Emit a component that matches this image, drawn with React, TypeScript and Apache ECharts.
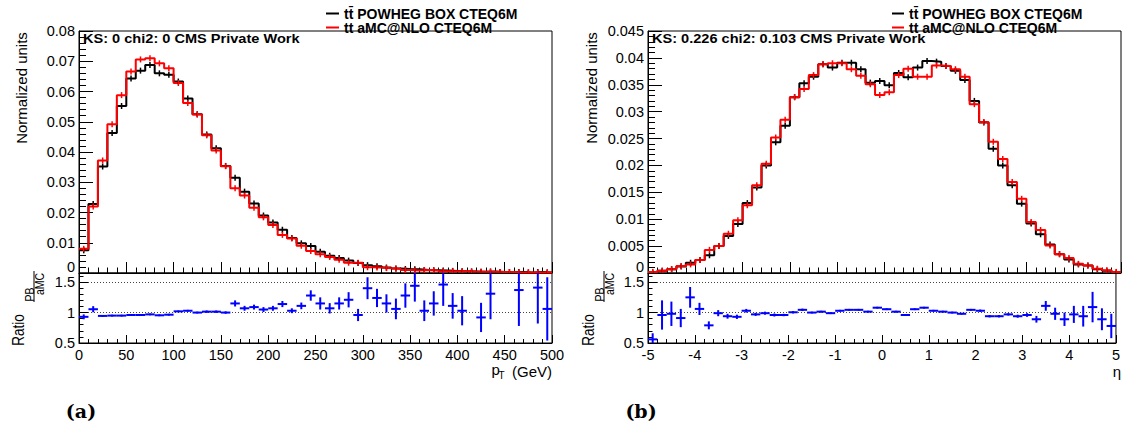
import React, { useEffect, useRef } from 'react';
import * as echarts from 'echarts';

// ---------- data ----------
const seriesNames = ['tt\u0304 POWHEG BOX CTEQ6M', 'tt aMC@NLO CTEQ6M'];
const ksTexts = ['KS: 0 chi2: 0 CMS Private Work', 'KS: 0.226 chi2: 0.103 CMS Private Work'];
const panelLabels = ['(a)', '(b)'];

const ptBinLow = [0, 10, 20, 30, 40, 50, 60, 70, 80, 90, 100, 110, 120, 130, 140, 150, 160, 170, 180, 190,
  200, 210, 220, 230, 240, 250, 260, 270, 280, 290, 300, 310, 320, 330, 340, 350, 360, 370, 380, 390,
  400, 410, 420, 430, 440, 450, 460, 470, 480, 490];
const ptBinWidth = 10;
const ptPowheg = [0.0075, 0.0228, 0.0352, 0.0463, 0.0552, 0.0643, 0.0669, 0.0688, 0.0660, 0.0655,
  0.0633, 0.0577, 0.0525, 0.0458, 0.0412, 0.0354, 0.0315, 0.0269, 0.0230, 0.0190,
  0.0167, 0.0143, 0.0116, 0.0098, 0.0089, 0.0070, 0.0057, 0.0050, 0.0041, 0.0033,
  0.0026, 0.0022, 0.0018, 0.0015, 0.0013, 0.0012, 0.0010, 0.0009, 0.0008, 0.0007,
  0.0006, 0.0005, 0.0004, 0.0005, 0.0003, 0.0003, 0.0003, 0.0002, 0.0003, 0.0002];
const ptAmc = [0.0080, 0.0220, 0.0372, 0.0492, 0.0588, 0.0666, 0.0706, 0.0710, 0.0693, 0.0677,
  0.0628, 0.0562, 0.0524, 0.0455, 0.0405, 0.0353, 0.0280, 0.0256, 0.0216, 0.0184,
  0.0159, 0.0126, 0.0114, 0.0090, 0.0073, 0.0062, 0.0053, 0.0044, 0.0034, 0.0034,
  0.0019, 0.0018, 0.0016, 0.0014, 0.0010, 0.0008, 0.0010, 0.0008, 0.00055, 0.0006,
  0.0006, 0.0005, 0.00045, 0.0004, 0.0003, 0.0003, 0.0002, 0.0002, 0.0002, 0.0002];
const ptRatio = [0.93, 1.055, 0.945, 0.95, 0.95, 0.96, 0.96, 0.97, 0.955, 0.965,
  1.02, 1.03, 1.0, 1.015, 1.015, 1.0, 1.15, 1.07, 1.09, 1.05,
  1.07, 1.14, 1.03, 1.11, 1.28, 1.15, 1.07, 1.15, 1.21, 0.96,
  1.40, 1.24, 1.15, 1.06, 1.28, 1.44, 1.03, 1.15, 1.46, 1.11,
  1.03, null, 0.92, 1.31, null, null, 1.37, null, 1.41, 1.06];
const ptRatioErr = [0.04, 0.05, 0.015, 0.015, 0.015, 0.015, 0.015, 0.015, 0.015, 0.015,
  0.015, 0.015, 0.015, 0.02, 0.02, 0.02, 0.05, 0.04, 0.04, 0.04,
  0.04, 0.05, 0.04, 0.055, 0.085, 0.1, 0.085, 0.1, 0.125, 0.1,
  0.18, 0.15, 0.15, 0.17, 0.2, 0.26, 0.17, 0.2, 0.35, 0.21,
  0.24, null, 0.24, 0.42, null, null, 0.59, null, 0.59, 0.52];

const etaBinLow = [-5, -4.8, -4.6, -4.4, -4.2, -4, -3.8, -3.6, -3.4, -3.2, -3, -2.8, -2.6, -2.4, -2.2,
  -2, -1.8, -1.6, -1.4, -1.2, -1, -0.8, -0.6, -0.4, -0.2, 0, 0.2, 0.4, 0.6, 0.8, 1, 1.2, 1.4, 1.6, 1.8,
  2, 2.2, 2.4, 2.6, 2.8, 3, 3.2, 3.4, 3.6, 3.8, 4, 4.2, 4.4, 4.6, 4.8];
const etaBinWidth = 0.2;
const etaPowheg = [0.0001, 0.0004, 0.0007, 0.0012, 0.0019, 0.0024, 0.0033, 0.0050, 0.0069, 0.0091,
  0.0130, 0.0159, 0.0200, 0.0243, 0.0274, 0.0327, 0.0353, 0.0365, 0.0388, 0.0382,
  0.0391, 0.0391, 0.0379, 0.0354, 0.0357, 0.0349, 0.0372, 0.0364, 0.0382, 0.0394,
  0.0393, 0.0385, 0.0376, 0.0359, 0.0320, 0.0280, 0.0231, 0.0200, 0.0163, 0.0129,
  0.0092, 0.0072, 0.0053, 0.0035, 0.0025, 0.0016, 0.0014, 0.0007, 0.0004, 0.0001];
const etaAmc = [0.0002, 0.0004, 0.0007, 0.0013, 0.0016, 0.0024, 0.0043, 0.0050, 0.0073, 0.0098,
  0.0126, 0.0163, 0.0203, 0.0252, 0.0285, 0.0327, 0.0342, 0.0368, 0.0388, 0.0390,
  0.0390, 0.0379, 0.0367, 0.0351, 0.0331, 0.0336, 0.0368, 0.0380, 0.0365, 0.0365,
  0.0386, 0.0385, 0.0379, 0.0365, 0.0314, 0.0281, 0.0244, 0.0212, 0.0169, 0.0138,
  0.0095, 0.0080, 0.0051, 0.0035, 0.0028, 0.0017, 0.0014, 0.0008, 0.0005, 0.0002];
const etaRatio = [0.56, 0.96, 0.98, 0.91, 1.25, 1.06, 0.79, 0.99, 0.94, 0.93,
  1.03, 0.97, 0.99, 0.96, 0.96, 1.005, 1.045, 1.0, 1.015, 0.99,
  1.03, 1.045, 1.045, 1.015, 1.08, 1.055, 1.015, 0.96, 1.055, 1.08,
  1.03, 1.015, 1.0, 0.98, 1.045, 1.03, 0.94, 0.94, 0.97, 0.94,
  0.96, 0.89, 1.11, 0.98, 0.89, 0.97, 0.94, 1.09, 0.89, 0.78];
const etaRatioErr = [0.1, 0.24, 0.2, 0.15, 0.17, 0.1, 0.065, 0.05, 0.04, 0.035,
  0.03, 0.025, 0.025, 0.025, 0.02, 0.02, 0.02, 0.015, 0.015, 0.015,
  0.015, 0.015, 0.015, 0.015, 0.015, 0.015, 0.015, 0.015, 0.015, 0.015,
  0.015, 0.015, 0.015, 0.015, 0.015, 0.02, 0.02, 0.02, 0.02, 0.025,
  0.03, 0.055, 0.08, 0.1, 0.11, 0.14, 0.17, 0.25, 0.18, 0.2];

// ---------- helpers ----------
const FONT = 'Liberation Sans';
const LABEL_SIZE = 14.5;

function stepData(low: number[], vals: number[], w: number) {
  const d = low.map((x, i) => [x, vals[i]]);
  d.push([low[low.length - 1] + w, vals[vals.length - 1]]);
  return d;
}
function markerData(low: number[], vals: number[], w: number) {
  return low.map((x, i) => [x + w / 2, vals[i]]);
}
function ratioData(low: number[], r: (number | null)[], e: (number | null)[], w: number) {
  const out: number[][] = [];
  low.forEach((x, i) => {
    if (r[i] != null && e[i] != null) out.push([x + w / 2, r[i] as number, e[i] as number, w / 2]);
  });
  return out;
}
const fmt = (v: number) => String(parseFloat(v.toFixed(4)));

function upperX(grid: number, min: number, max: number, interval: number) {
  return {
    type: 'value', gridIndex: grid, min, max, interval,
    axisLine: { onZero: false, lineStyle: { color: '#000', width: 1 } },
    axisTick: { inside: true, length: 11, lineStyle: { color: '#000' } },
    minorTick: { show: true, splitNumber: 5, length: 5.5, lineStyle: { color: '#000' } },
    axisLabel: { show: false },
    splitLine: { show: false },
  };
}
function lowerX(grid: number, min: number, max: number, interval: number) {
  return {
    type: 'value', gridIndex: grid, min, max, interval,
    axisLine: { onZero: false, lineStyle: { color: '#000', width: 1 } },
    axisTick: { inside: true, length: 8, lineStyle: { color: '#000' } },
    minorTick: { show: true, splitNumber: 5, length: 4, lineStyle: { color: '#000' } },
    axisLabel: { show: true, margin: 4, fontFamily: FONT, fontSize: LABEL_SIZE, color: '#000', formatter: fmt },
    splitLine: { show: false },
  };
}
function upperY(grid: number, max: number, interval: number) {
  return {
    type: 'value', gridIndex: grid, min: 0, max, interval,
    axisLine: { show: true, onZero: false, lineStyle: { color: '#000', width: 1 } },
    axisTick: { show: true, inside: true, length: 14, lineStyle: { color: '#000' } },
    minorTick: { show: true, splitNumber: 5, length: 7, lineStyle: { color: '#000' } },
    axisLabel: {
      margin: 4, fontFamily: FONT, fontSize: LABEL_SIZE, color: '#000',
      // the zero label sits on the pad boundary; lift it a little so it does not run into the ratio labels
      formatter: (v: number) => (v === 0 ? '{z|0}' : fmt(v)),
      rich: { z: { fontFamily: FONT, fontSize: LABEL_SIZE, color: '#000', padding: [0, 0, 12, 0] } },
    },
    splitLine: { show: false },
  };
}
function lowerY(grid: number) {
  return {
    type: 'value', gridIndex: grid, min: 0.5, max: 1.65, interval: 0.5,
    axisLine: { show: true, onZero: false, lineStyle: { color: '#000', width: 1 } },
    axisTick: { show: true, inside: true, length: 9, lineStyle: { color: '#000' } },
    minorTick: { show: true, splitNumber: 5, length: 4.5, lineStyle: { color: '#000' } },
    axisLabel: {
      margin: 4, fontFamily: FONT, fontSize: LABEL_SIZE, color: '#000',
      formatter: (v: number) => (v > 1.6 ? '' : fmt(v)),
    },
    splitLine: { show: true, lineStyle: { color: '#444', type: [1, 2], width: 1 } },
  };
}

function stepSeries(name: string, color: string, xi: number, data: number[][]) {
  return {
    name, type: 'line', step: 'end', xAxisIndex: xi, yAxisIndex: xi, data,
    symbol: 'none', lineStyle: { color, width: 2 }, itemStyle: { color }, z: 3,
  };
}
function markerSeries(name: string, color: string, xi: number, data: number[][]) {
  return {
    name, type: 'custom', xAxisIndex: xi, yAxisIndex: xi, data, z: 4, clip: true,
    itemStyle: { color },
    renderItem: (params: any, api: any) => {
      const p = api.coord([api.value(0), api.value(1)]);
      return {
        type: 'line',
        shape: { x1: p[0], y1: p[1] - 3, x2: p[0], y2: p[1] + 3 },
        style: { stroke: color, lineWidth: 1.5 },
      };
    },
  };
}
function ratioSeries(xi: number, data: number[][]) {
  return {
    name: 'ratio', type: 'custom', xAxisIndex: xi, yAxisIndex: xi, data, z: 4, clip: true,
    renderItem: (params: any, api: any) => {
      const x = api.value(0), r = api.value(1), e = api.value(2), hw = api.value(3);
      const a = api.coord([x - hw, r]);
      const b = api.coord([x + hw, r]);
      const lo = api.coord([x, r - e]);
      const hi = api.coord([x, r + e]);
      return {
        type: 'group',
        children: [
          { type: 'line', shape: { x1: a[0], y1: a[1], x2: b[0], y2: b[1] }, style: { stroke: '#0000ff', lineWidth: 2 } },
          { type: 'line', shape: { x1: lo[0], y1: lo[1], x2: hi[0], y2: hi[1] }, style: { stroke: '#0000ff', lineWidth: 2 } },
        ],
      };
    },
  };
}

function txt(text: string, x: number, y: number, opt: any = {}) {
  return {
    type: 'text', x, y, rotation: opt.rotation || 0, scaleX: opt.scaleX || 1, scaleY: opt.scaleY || 1, z: 10,
    style: {
      text, fill: '#000',
      font: `${opt.weight || 'normal'} ${opt.size || 15}px ${opt.family || FONT}`,
      align: opt.align || 'center', verticalAlign: opt.valign || 'middle',
    },
  };
}

function ratioLabel(cx: number) {
  // cx = x of "Ratio"
  return [
    txt('Ratio', cx, 330, { rotation: Math.PI / 2, size: 13.5, scaleY: 1.2 }),
    txt('PB', cx + 10.5, 294.5, { rotation: Math.PI / 2, size: 10.5, scaleY: 1.15 }),
    { type: 'line', z: 10, shape: { x1: cx + 15, y1: 271, x2: cx + 15, y2: 302 }, style: { stroke: '#000', lineWidth: 1 } },
    txt('aMC', cx + 20.5, 284, { rotation: Math.PI / 2, size: 10.5, scaleY: 1.15 }),
  ];
}

export default function App() {
  const ref = useRef<HTMLDivElement>(null);
  useEffect(() => {
    if (!ref.current) return;
    const chart = echarts.init(ref.current, null, { renderer: 'svg' });
    const gridBase = { show: true, borderColor: '#000', borderWidth: 1, backgroundColor: 'transparent', containLabel: false };
    const legendBase = {
      data: seriesNames, orient: 'vertical', itemHeight: 2, itemGap: 0,
      icon: 'rect', selectedMode: false,
      textStyle: { fontFamily: FONT, fontWeight: 'bold', fontSize: 14, color: '#000' },
    };
    const option: any = {
      animation: false,
      backgroundColor: '#fff',
      grid: [
        { ...gridBase, left: 79, top: 31, width: 473, height: 242 },
        { ...gridBase, left: 79, top: 273, width: 473, height: 70 },
        { ...gridBase, left: 648, top: 31, width: 473, height: 242 },
        { ...gridBase, left: 648, top: 273, width: 473, height: 70 },
      ],
      xAxis: [
        upperX(0, 0, 500, 50),
        lowerX(1, 0, 500, 50),
        upperX(2, -5, 5, 1),
        lowerX(3, -5, 5, 1),
      ],
      yAxis: [
        upperY(0, 0.08, 0.01),
        lowerY(1),
        upperY(2, 0.045, 0.005),
        lowerY(3),
      ],
      legend: [
        { ...legendBase, left: 321, top: 1.5, itemWidth: 13 },
        { ...legendBase, left: 887, top: 1.5, itemWidth: 12 },
      ],
      series: [
        stepSeries(seriesNames[0], '#000000', 0, stepData(ptBinLow, ptPowheg, ptBinWidth)),
        stepSeries(seriesNames[1], '#ff0000', 0, stepData(ptBinLow, ptAmc, ptBinWidth)),
        markerSeries(seriesNames[0], '#000000', 0, markerData(ptBinLow, ptPowheg, ptBinWidth)),
        markerSeries(seriesNames[1], '#ff0000', 0, markerData(ptBinLow, ptAmc, ptBinWidth)),
        ratioSeries(1, ratioData(ptBinLow, ptRatio, ptRatioErr, ptBinWidth)),
        stepSeries(seriesNames[0], '#000000', 2, stepData(etaBinLow, etaPowheg, etaBinWidth)),
        stepSeries(seriesNames[1], '#ff0000', 2, stepData(etaBinLow, etaAmc, etaBinWidth)),
        markerSeries(seriesNames[0], '#000000', 2, markerData(etaBinLow, etaPowheg, etaBinWidth)),
        markerSeries(seriesNames[1], '#ff0000', 2, markerData(etaBinLow, etaAmc, etaBinWidth)),
        ratioSeries(3, ratioData(etaBinLow, etaRatio, etaRatioErr, etaBinWidth)),
      ],
      graphic: [
        txt('Normalized units', 21.5, 88, { rotation: Math.PI / 2, size: 15 }),
        txt('Normalized units', 591, 88, { rotation: Math.PI / 2, size: 15 }),
        ...ratioLabel(19),
        ...ratioLabel(589),
        txt(ksTexts[0], 83, 38.5, { weight: 'bold', size: 12.5, scaleX: 1.166, align: 'left' }),
        txt(ksTexts[1], 652, 38.5, { weight: 'bold', size: 12.5, scaleX: 1.166, align: 'left' }),
        txt('p', 491.5, 369, { size: 15, align: 'left' }),
        txt('T', 498.5, 375.5, { size: 10, align: 'left' }),
        txt('(GeV)', 552, 371, { size: 15, align: 'right' }),
        txt('\u03b7', 1117, 371, { size: 15 }),
        txt(panelLabels[0], 81, 411, { weight: 'bold', size: 19, family: 'DejaVu Serif' }),
        txt(panelLabels[1], 641, 411, { weight: 'bold', size: 19, family: 'DejaVu Serif' }),
      ],
    };
    chart.setOption(option);
    return () => chart.dispose();
  }, []);
  return (
    <div
      ref={ref}
      style={{ position: 'absolute', left: 0, top: 0, width: 1123, height: 429, background: '#fff' }}
    />
  );
}
